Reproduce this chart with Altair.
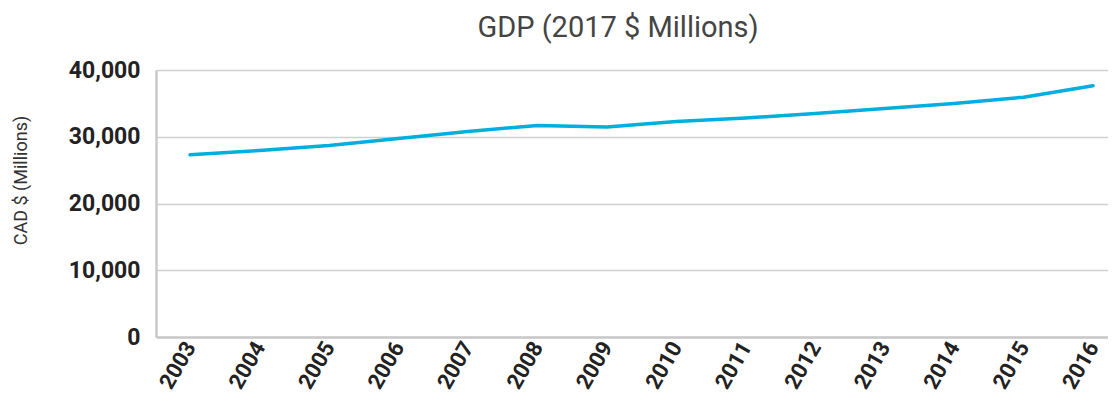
import altair as alt
import pandas as pd

years = ["2003", "2004", "2005", "2006", "2007", "2008", "2009",
         "2010", "2011", "2012", "2013", "2014", "2015", "2016"]
gdp = [27300, 27940, 28690, 29740, 30790, 31690, 31460,
       32280, 32810, 33480, 34230, 34980, 35930, 37630]

df = pd.DataFrame({"year": years, "gdp": gdp})

font = "Roboto"

chart = alt.Chart(df).mark_line(
    color="#00AEDF", strokeWidth=3.5, strokeCap="round", strokeJoin="round"
).encode(
    x=alt.X("year:O", sort=years,
            scale=alt.Scale(type="point", padding=0.353, align=0.694),
            axis=alt.Axis(title=None, labelAngle=-60, labelAlign="right",
                          labelBaseline="middle", labelFontSize=22,
                          labelFontWeight="bold", labelColor="#222222",
                          labelFont=font, labelPadding=6, ticks=False,
                          domainColor="#c8c8c8", domainWidth=2.5,
                          grid=False)),
    y=alt.Y("gdp:Q",
            scale=alt.Scale(domain=[0, 40000], nice=False),
            axis=alt.Axis(title="CAD $ (Millions)", values=[0, 10000, 20000, 30000, 40000],
                          format=",d", labelFontSize=23, labelFontWeight="bold",
                          labelColor="#222222", labelFont=font, labelPadding=16,
                          ticks=False, domainColor="#c8c8c8", domainWidth=2.5,
                          gridColor="#d0d0d0", gridWidth=1.5,
                          titleFont=font, titleFontSize=18, titleFontWeight="normal",
                          titleColor="#333333", titlePadding=0, titleX=-126,
                          titleY=110, titleAlign="center", titleAngle=-90))
).properties(
    width=952,
    height=267,
    title=alt.TitleParams("GDP (2017 $ Millions)", font=font, fontSize=29,
                          fontWeight="normal", color="#444444", anchor="middle",
                          dx=-14, offset=16),
    autosize=alt.AutoSizeParams(type="none"),
    padding={"left": 148, "top": 62, "right": 0, "bottom": 55},
).configure_view(stroke=None)

chart.save("out.html", embed_options={"renderer": "svg", "actions": False})
